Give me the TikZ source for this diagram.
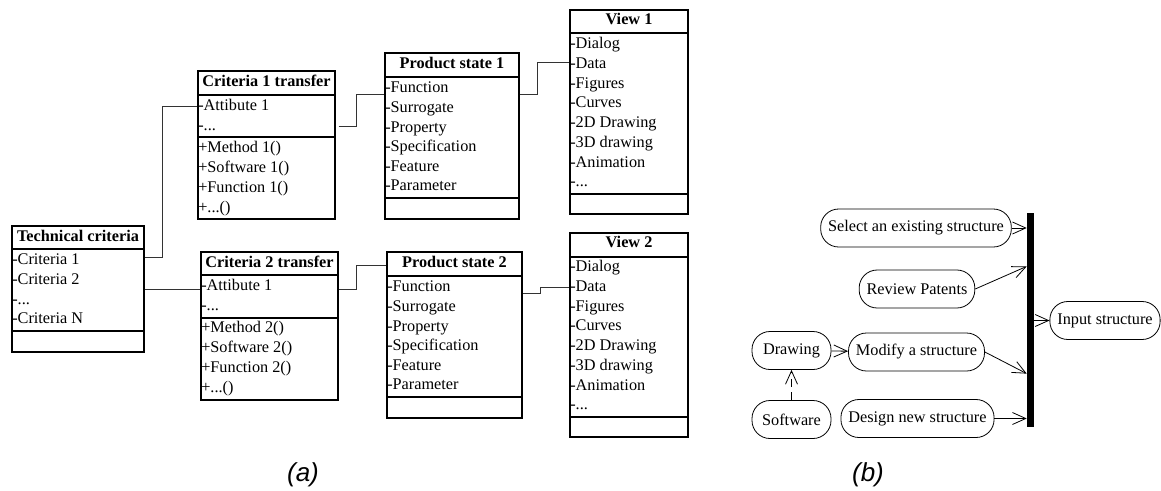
\documentclass[tikz,border=0pt]{standalone}
\usepackage{fontspec}
\setmainfont{Liberation Serif}
\newfontfamily\capfont{Liberation Sans}
\usetikzlibrary{fit,calc,arrows.meta}

\newcommand{\rowdots}{-...}
\newcommand{\methdots}{+...()}

\tikzset{
  classbox/.style={draw, line width=0.9pt, inner sep=0pt},
  classtitle/.style={inner sep=0pt, text height=0.66em, text depth=0pt, font=\fontsize{12.2pt}{15pt}\selectfont\bfseries},
  classrow/.style={anchor=west, inner sep=0pt, text height=0.66em, text depth=0pt, font=\fontsize{12.2pt}{15pt}\selectfont},
  link/.style={line width=0.7pt, black!80},
  action/.style={draw, line width=0.6pt, rounded corners=13.5pt, minimum height=28.5pt, inner xsep=5.6pt, font=\fontsize{12.2pt}{15pt}\selectfont},
  flow/.style={line width=0.6pt, -{Straight Barb[length=10pt,width=9pt]}},
  caption/.style={inner sep=0pt, font=\capfont\itshape\fontsize{19.5pt}{22pt}\selectfont}
}

\begin{document}
\begin{tikzpicture}[x=0.75pt,y=-0.75pt]
\useasboundingbox (0,0) rectangle (1161,490);

% (a) class diagram
\node[classbox, fit={(12,226) (144,352)}] (tc) {};
\draw[line width=0.9pt] (tc.west |- 0,249) -- (tc.east |- 0,249);
\draw[line width=0.9pt] (tc.west |- 0,331) -- (tc.east |- 0,331);
\node[classtitle] (tct) at ($(tc.north)+(0,11.5)$) {Technical criteria};
\foreach \t [count=\i from 0] in {-Criteria 1,-Criteria 2,\rowdots,-Criteria N}
  \node[classrow] (tca\i) at ($(tc.north west)+(0.6,{35+19.7*\i})$) {\t};

\node[classbox, fit={(198,71) (335,219)}] (c1) {};
\draw[line width=0.9pt] (c1.west |- 0,95) -- (c1.east |- 0,95);
\draw[line width=0.9pt] (c1.west |- 0,137) -- (c1.east |- 0,137);
\node[classtitle] (c1t) at ($(c1.north)+(0,11.5)$) {Criteria 1 transfer};
\foreach \t [count=\i from 0] in {-Attibute 1,\rowdots}
  \node[classrow] (c1a\i) at ($(c1.north west)+(0.6,{36+19.7*\i})$) {\t};
\foreach \t [count=\i from 0] in {+Method 1(),+Software 1(),+Function 1(),\methdots}
  \node[classrow] (c1m\i) at ($(c1.north west)+(0.6,{78+19.9*\i})$) {\t};

\node[classbox, fit={(201,252) (338,400)}] (c2) {};
\draw[line width=0.9pt] (c2.west |- 0,275) -- (c2.east |- 0,275);
\draw[line width=0.9pt] (c2.west |- 0,318) -- (c2.east |- 0,318);
\node[classtitle] (c2t) at ($(c2.north)+(0,11.5)$) {Criteria 2 transfer};
\foreach \t [count=\i from 0] in {-Attibute 1,\rowdots}
  \node[classrow] (c2a\i) at ($(c2.north west)+(0.6,{35+19.7*\i})$) {\t};
\foreach \t [count=\i from 0] in {+Method 2(),+Software 2(),+Function 2(),\methdots}
  \node[classrow] (c2m\i) at ($(c2.north west)+(0.6,{77+19.9*\i})$) {\t};

\node[classbox, fit={(385,53) (519,219)}] (ps1) {};
\draw[line width=0.9pt] (ps1.west |- 0,77) -- (ps1.east |- 0,77);
\draw[line width=0.9pt] (ps1.west |- 0,198) -- (ps1.east |- 0,198);
\node[classtitle] (ps1t) at ($(ps1.north)+(0,11.5)$) {Product state 1};
\foreach \t [count=\i from 0] in {-Function,-Surrogate,-Property,-Specification,-Feature,-Parameter}
  \node[classrow] (ps1r\i) at ($(ps1.north west)+(0.6,{36+19.6*\i})$) {\t};

\node[classbox, fit={(387,252) (522,418)}] (ps2) {};
\draw[line width=0.9pt] (ps2.west |- 0,276) -- (ps2.east |- 0,276);
\draw[line width=0.9pt] (ps2.west |- 0,397) -- (ps2.east |- 0,397);
\node[classtitle] (ps2t) at ($(ps2.north)+(0,12)$) {Product state 2};
\foreach \t [count=\i from 0] in {-Function,-Surrogate,-Property,-Specification,-Feature,-Parameter}
  \node[classrow] (ps2r\i) at ($(ps2.north west)+(0.6,{36+19.6*\i})$) {\t};

\node[classbox, fit={(570,10) (688,214)}] (v1) {};
\draw[line width=0.9pt] (v1.west |- 0,33) -- (v1.east |- 0,33);
\draw[line width=0.9pt] (v1.west |- 0,194) -- (v1.east |- 0,194);
\node[classtitle] (v1t) at ($(v1.north)+(0,11)$) {View 1};
\foreach \t [count=\i from 0] in {-Dialog,-Data,-Figures,-Curves,-2D Drawing,-3D drawing,-Animation,\rowdots}
  \node[classrow] (v1r\i) at ($(v1.north west)+(0.6,{35+19.7*\i})$) {\t};

\node[classbox, fit={(570,233) (688,437)}] (v2) {};
\draw[line width=0.9pt] (v2.west |- 0,257) -- (v2.east |- 0,257);
\draw[line width=0.9pt] (v2.west |- 0,417) -- (v2.east |- 0,417);
\node[classtitle] (v2t) at ($(v2.north)+(0,11)$) {View 2};
\foreach \t [count=\i from 0] in {-Dialog,-Data,-Figures,-Curves,-2D Drawing,-3D drawing,-Animation,\rowdots}
  \node[classrow] (v2r\i) at ($(v2.north west)+(0.6,{35+19.7*\i})$) {\t};

% links
\draw[link] ($(tc.east |- tca0)+(0,-3)$) -- ++(18,0) |- (c1.west |- c1a0);
\draw[link] ($(tc.east |- c2a0)+(0,3)$) -- ($(c2.west |- c2a0)+(0,3)$);
\draw[link] ($(c1.east |- c1a1)+(3,0)$) -- ++(18,0) |- ($(ps1.west |- ps1r0)+(0,6)$);
\draw[link] ($(c2.east |- c2a0)+(0,3)$) -- ++(18,0) |- ($(ps2.west |- ps2t)+(0,2)$);
\draw[link] ($(ps1.east |- ps1r0)+(0,6)$) -- ++(18,0) |- ($(v1.west |- v1r1)+(0,-2)$);
\draw[link] ($(ps2.east |- ps2r0)+(0,6)$) -- ++(18,0) |- (v2.west |- v2r1);

% (b) activity diagram
\node[action] (sel) at (916,228) {Select an existing structure};
\node[action] (rev) at (917,289) {Review Patents};
\node[action] (mod) at (916.5,352) {Modify a structure};
\node[action] (des) at (917.5,418.5) {Design new structure};
\node[action, minimum width=59.25pt] (drw) at (791.5,350.5) {Drawing};
\node[action, minimum width=59.25pt] (sw) at (791.5,419.5) {Software};
\node[action] (inp) at (1105,320.5) {Input structure};
\node[fill=black, inner sep=0pt, minimum width=5.25pt, minimum height=160.5pt] (bar) at (1030.5,320) {};

\draw[flow] (sel) -- (bar.west |- sel);
\draw[flow] (rev.east) -- ($(bar.north west)!0.25!(bar.south west)$);
\draw[flow] (mod.east) -- ($(bar.north west)!0.75!(bar.south west)$);
\draw[flow] (des) -- (bar.west |- des);
\draw[flow] (bar.east |- inp) -- (inp);
\draw[flow] (drw) -- (mod);
\draw[flow, dash pattern=on 6pt off 4pt] (sw) -- (drw);

\node[caption] (capa) at (303,475) {(a)};
\node[caption] (capb) at (868,475) {(b)};
\end{tikzpicture}
\end{document}
